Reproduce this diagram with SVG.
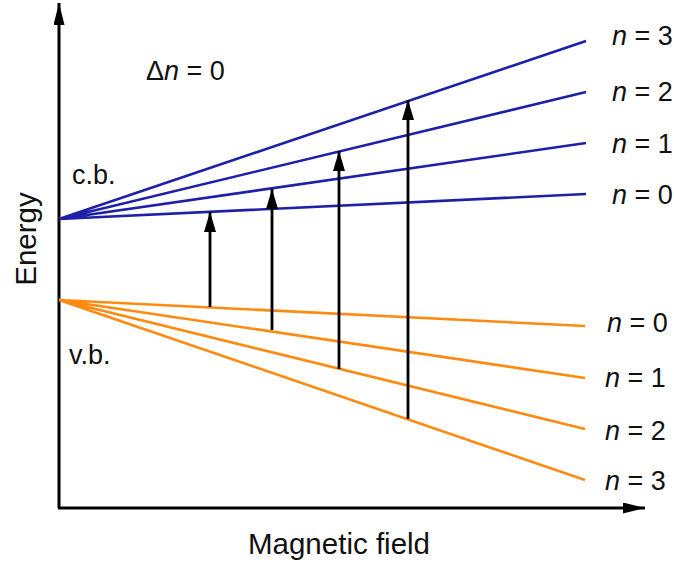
<svg xmlns="http://www.w3.org/2000/svg" width="674" height="564" viewBox="0 0 674 564">
<style>
text{font-family:"Liberation Sans",Arial,sans-serif;font-size:27px;fill:#111}
.big{font-size:29.5px}
.cb{stroke:#1f1fa8;stroke-width:2.6;fill:none}
.vb{stroke:#ff8a10;stroke-width:2.6;fill:none}
.ax{stroke:#000;stroke-width:3;fill:none}
.tr{stroke:#000;stroke-width:2.8;fill:none}
</style>
<defs>
<marker id="ah" viewBox="0 0 20 12" refX="20" refY="6" markerWidth="20" markerHeight="12" orient="auto" markerUnits="userSpaceOnUse">
<path d="M0,0 L20,6 L0,12 z" fill="#000"/>
</marker>
<marker id="axh" viewBox="0 0 22 11" refX="22" refY="5.5" markerWidth="22" markerHeight="11" orient="auto" markerUnits="userSpaceOnUse">
<path d="M0,0 L22,5.5 L0,11 z" fill="#000"/>
</marker>
</defs>
<rect width="674" height="564" fill="#fff"/>
<g id="axes">
<path class="ax" d="M59,508 L59,3" marker-end="url(#axh)"/>
<path class="ax" d="M58,508 L645,508" marker-end="url(#axh)"/>
<text class="big" x="36" y="239" text-anchor="middle" transform="rotate(-90 36 239)">Energy</text>
<text class="big" x="339" y="554" text-anchor="middle">Magnetic field</text>
</g>
<g id="conduction-band">
<path class="cb" d="M59,219 L586,41 M59,219 L586,92 M59,219 L586,143 M59,219 L586,194"/>
<text x="72" y="184">c.b.</text>
<text x="612" y="45"><tspan font-style="italic">n</tspan> = 3</text>
<text x="612" y="101"><tspan font-style="italic">n</tspan> = 2</text>
<text x="612" y="153"><tspan font-style="italic">n</tspan> = 1</text>
<text x="612" y="204"><tspan font-style="italic">n</tspan> = 0</text>
</g>
<g id="valence-band">
<path class="vb" d="M59,300 L585,326 M59,300 L585,378 M59,300 L585,429 M59,300 L585,480"/>
<text x="69" y="364">v.b.</text>
<text x="607" y="332"><tspan font-style="italic">n</tspan> = 0</text>
<text x="605" y="387"><tspan font-style="italic">n</tspan> = 1</text>
<text x="605" y="440"><tspan font-style="italic">n</tspan> = 2</text>
<text x="605" y="490"><tspan font-style="italic">n</tspan> = 3</text>
</g>
<g id="label-delta">
<text x="146" y="80">Δ<tspan font-style="italic">n</tspan> = 0</text>
</g>
<g id="transitions">
<path class="tr" d="M210,307 L210,212" marker-end="url(#ah)"/>
<path class="tr" d="M272,330 L272,189" marker-end="url(#ah)"/>
<path class="tr" d="M339,369 L339,151" marker-end="url(#ah)"/>
<path class="tr" d="M408,419 L408,100" marker-end="url(#ah)"/>
</g>
</svg>
